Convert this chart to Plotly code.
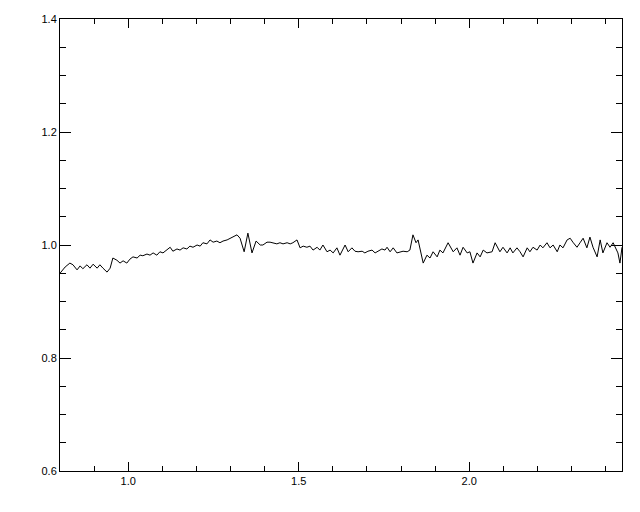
import plotly.graph_objects as go

# wavelength (x) and normalised flux (y)
wavelength = [
    0.800, 0.815, 0.829, 0.838, 0.850, 0.859, 0.867, 0.879, 0.888, 0.897,
    0.909, 0.917, 0.926, 0.938, 0.947, 0.955, 0.967, 0.976, 0.985, 0.996,
    1.005, 1.014, 1.026, 1.035, 1.043, 1.055, 1.064, 1.073, 1.084, 1.093,
    1.102, 1.114, 1.123, 1.131, 1.143, 1.152, 1.161, 1.172, 1.181, 1.190,
    1.202, 1.211, 1.219, 1.231, 1.240, 1.249, 1.260, 1.269, 1.278, 1.290,
    1.299, 1.307, 1.319, 1.328, 1.340, 1.351, 1.363, 1.375, 1.387, 1.395,
    1.407, 1.416, 1.425, 1.436, 1.445, 1.454, 1.466, 1.475, 1.483, 1.495,
    1.504, 1.513, 1.524, 1.533, 1.542, 1.554, 1.562, 1.571, 1.583, 1.592,
    1.601, 1.612, 1.621, 1.636, 1.645, 1.656, 1.665, 1.674, 1.686, 1.694,
    1.703, 1.715, 1.724, 1.733, 1.744, 1.753, 1.759, 1.768, 1.777, 1.788,
    1.797, 1.806, 1.818, 1.826, 1.835, 1.844, 1.850, 1.859, 1.865, 1.876,
    1.885, 1.894, 1.906, 1.914, 1.923, 1.938, 1.953, 1.964, 1.973, 1.982,
    1.994, 2.002, 2.011, 2.023, 2.032, 2.041, 2.052, 2.067, 2.076, 2.090,
    2.099, 2.111, 2.120, 2.128, 2.140, 2.149, 2.158, 2.170, 2.178, 2.187,
    2.199, 2.208, 2.216, 2.228, 2.237, 2.246, 2.258, 2.266, 2.275, 2.287,
    2.296, 2.304, 2.316, 2.325, 2.334, 2.345, 2.354, 2.363, 2.375, 2.384,
    2.392, 2.404, 2.413, 2.422, 2.433, 2.436, 2.442, 2.448,
]
flux = [
    0.950, 0.961, 0.968, 0.965, 0.956, 0.963, 0.958, 0.965, 0.959, 0.966,
    0.959, 0.965, 0.959, 0.952, 0.959, 0.977, 0.973, 0.968, 0.972, 0.968,
    0.975, 0.979, 0.977, 0.982, 0.981, 0.984, 0.982, 0.986, 0.982, 0.988,
    0.986, 0.991, 0.996, 0.989, 0.993, 0.991, 0.995, 0.993, 0.998, 0.996,
    1.000, 0.998, 1.004, 1.002, 1.009, 1.005, 1.007, 1.004, 1.007, 1.009,
    1.012, 1.014, 1.018, 1.012, 0.988, 1.021, 0.986, 1.007, 1.000, 1.000,
    1.005, 1.005, 1.004, 1.002, 1.004, 1.002, 1.004, 1.002, 1.004, 1.009,
    0.995, 0.998, 0.996, 0.998, 0.991, 0.996, 0.991, 1.000, 0.988, 0.991,
    0.986, 0.995, 0.982, 1.000, 0.988, 0.995, 0.989, 0.988, 0.989, 0.986,
    0.989, 0.991, 0.986, 0.989, 0.993, 0.991, 0.996, 0.988, 0.995, 0.986,
    0.988, 0.989, 0.988, 0.991, 1.018, 1.004, 1.009, 0.986, 0.968, 0.982,
    0.977, 0.988, 0.979, 0.991, 0.986, 1.004, 0.988, 0.995, 0.982, 0.996,
    0.986, 0.988, 0.968, 0.986, 0.979, 0.991, 0.986, 0.988, 1.004, 0.988,
    0.996, 0.986, 0.995, 0.986, 0.995, 0.988, 0.979, 0.995, 0.988, 0.996,
    0.991, 1.000, 0.995, 1.004, 0.995, 1.000, 0.988, 1.000, 0.995, 1.009,
    1.012, 1.005, 0.996, 1.004, 1.012, 0.995, 1.014, 0.996, 0.979, 1.009,
    0.986, 1.004, 0.996, 1.004, 0.991, 0.986, 0.968, 0.996,
]

x_range = [0.800, 2.448]
y_range = [0.6, 1.4]

fig = go.Figure()
fig.add_trace(go.Scatter(
    x=wavelength, y=flux, mode="lines",
    line=dict(color="black", width=1),
    showlegend=False, hoverinfo="skip",
))

axis_common = dict(
    showline=True, linecolor="black", linewidth=1, mirror="ticks",
    showgrid=False, zeroline=False, ticks="inside", tickcolor="black",
    tickwidth=1, tickformat=".1f", automargin=False,
    tickfont=dict(family="Liberation Sans, Arial, sans-serif", size=11, color="black"),
)

fig.update_xaxes(
    range=x_range, tick0=0, dtick=0.5, ticklen=9,
    minor=dict(dtick=0.1, tick0=0, ticklen=5, ticks="inside", tickcolor="black", tickwidth=1, showgrid=False),
    **axis_common,
)
fig.update_yaxes(
    range=y_range, tick0=0, dtick=0.2, ticklen=11,
    minor=dict(dtick=0.05, tick0=0, ticklen=6, ticks="inside", tickcolor="black", tickwidth=1, showgrid=False),
    **axis_common,
)

# page body adds an 8px offset, so the figure is 632x504 to fill the window
fig.update_layout(
    width=632, height=504,
    margin=dict(l=52, r=18, t=11, b=41),
    paper_bgcolor="white", plot_bgcolor="white",
)

fig.write_html("out.html")
